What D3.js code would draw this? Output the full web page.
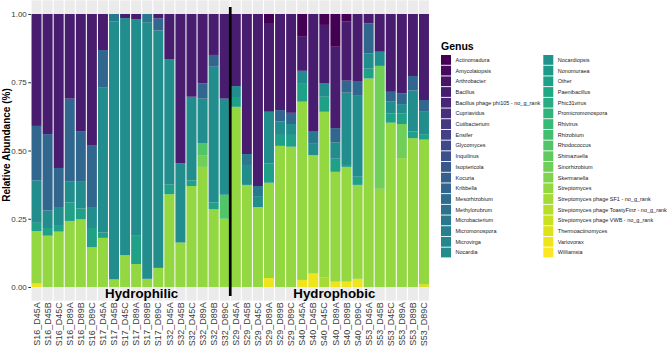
<!DOCTYPE html>
<html>
<head>
<meta charset="utf-8">
<script src="https://cdn.jsdelivr.net/npm/d3@7"></script>
<style>
  body { margin: 0; background: #fff; }
  text { font-family: "Liberation Sans", Arial, sans-serif; }
</style>
</head>
<body>
<svg id="chart" width="667" height="347"></svg>
<script>
// samples on the x axis
var samples = [
  'S16_D45A', 'S16_D45B', 'S16_D45C', 'S16_D89A', 'S16_D89B', 'S16_D89C',
  'S17_D45A', 'S17_D45B', 'S17_D45C', 'S17_D89A', 'S17_D89B', 'S17_D89C',
  'S32_D45A', 'S32_D45B', 'S32_D45C', 'S32_D89A', 'S32_D89B', 'S32_D89C',
  'S29_D45A', 'S29_D45B', 'S29_D45C', 'S29_D89A', 'S29_D89B', 'S29_D89C',
  'S40_D45A', 'S40_D45B', 'S40_D45C', 'S40_D89A', 'S40_D89B', 'S40_D89C',
  'S53_D45A', 'S53_D45B', 'S53_D45C', 'S53_D89A', 'S53_D89B', 'S53_D89C'
];

// legend order (first level is stacked on top)
var genera = [
  'Actinomadura', 'Amycolatopsis', 'Arthrobacter', 'Bacillus',
  'Bacillus phage phi105 - no_g_rank', 'Cupriavidus', 'Cutibacterium', 'Ensifer',
  'Glycomyces', 'Inquilinus', 'Isoptericola', 'Kocuria', 'Kribbella',
  'Mesorhizobium', 'Methylorubrum', 'Microbacterium', 'Micromonospora',
  'Microvirga', 'Nocardia', 'Nocardiopsis', 'Nonomuraea', 'Other',
  'Paenibacillus', 'Phic31virus', 'Promicromonospora', 'Rhivirus', 'Rhizobium',
  'Rhodococcus', 'Shimazuella', 'Sinorhizobium', 'Skermanella', 'Streptomyces',
  'Streptomyces phage SF1 - no_g_rank', 'Streptomyces phage ToastyFinz - no_g_rank',
  'Streptomyces phage VWB - no_g_rank', 'Thermoactinomyces', 'Variovorax', 'Williamsia'
];

// relative abundance per sample (genera not listed are 0)
var actinomadura = [0,0,0,0,0,0, 0,0,0,0,0,0, 0,0,0,0,0,0, 0,0,0,.033,0,0, .081,0,.04,.12,.028,0, 0,0,0,0,0,0];
var bacillus = [.41,.44,.564,.31,.429,.48, .132,0,.015,.02,0,.016, .165,.547,.303,.254,.15,.31,
  .264,.513,.63,.325,.352,.362, .127,.431,.213,.298,.216,.248, .034,.138,.285,.291,.227,.315];
var kribbella = [.20,.28,.146,.304,.183,.23, .138,0,0,0,0,.044, 0,0,0,.056,.043,0,
  0,0,0,0,.042,.041, 0,0,0,.052,.044,.049, .11,0,.036,.039,.053,.043];
var microbacterium = [0,0,0,0,0,0, 0,.028,0,0,.032,0, 0,0,0,0,0,0,
  0,.04,.037,0,0,0, 0,.042,0,0,0,0, 0,0,0,0,0,0];
var nocardia = [.155,.064,.063,.076,.10,.074, .53,.944,.868,.79,.938,.87, .46,.29,.307,.163,.497,.352,
  .04,.073,.04,.19,.049,.04, .045,.044,.05,.06,.265,.299, .056,.052,.043,.035,.15,.082];
var other = [.03,.028,.024,.068,.04,.07, .02,0,0,.106,0,0, .035,0,.02,0,.025,0,
  .036,0,0,.07,.04,.043, .068,0,.055,.048,.007,.03, .036,0,.034,.038,.025,.02];
var rhodococcus = [0,0,0,0,0,0, 0,0,0,0,0,0, 0,0,0,.044,0,.088,
  0,0,0,0,0,0, 0,0,0,0,0,0, 0,0,0,0,0,0];
var sinorhizobium = [0,0,0,0,0,0, 0,0,0,0,0,0, 0,0,0,.043,0,0,
  0,0,0,0,0,0, 0,0,0,0,0,0, 0,.45,0,.125,0,0];
var streptomyces = [.192,.188,.203,.242,.248,.146, .18,.028,.117,.084,.03,.07, .34,.163,.37,.44,.285,.25,
  .66,.374,.293,.349,.517,.514, .653,.433,.607,.402,.42,.344, .764,.36,.602,.472,.545,.53];
var phageSF1 = [0,0,0,0,0,0, 0,0,0,0,0,0, 0,0,0,0,0,0,
  0,0,0,0,0,0, 0,0,.035,0,0,0, 0,0,0,0,0,0];
var thermoactinomyces = [0,0,0,0,0,0, 0,0,0,0,0,0, 0,0,0,0,0,0,
  0,0,0,0,0,0, 0,0,0,0,0,0, 0,0,0,0,0,.01];
var variovorax = [.013,0,0,0,0,0, 0,0,0,0,0,0, 0,0,0,0,0,0,
  0,0,0,.033,0,0, .026,.05,0,.02,.02,.03, 0,0,0,0,0,0];

// group annotations (position in category units, 1-based)
var groupLabels = ['Hydrophilic', 'Hydrophobic'];
var groupAt = [10.5, 27.9];
var dividerAt = 18;

var yTicks = [0, 0.25, 0.5, 0.75, 1];

var valuesByGenus = {
  'Actinomadura': actinomadura,
  'Bacillus': bacillus,
  'Kribbella': kribbella,
  'Microbacterium': microbacterium,
  'Nocardia': nocardia,
  'Other': other,
  'Rhodococcus': rhodococcus,
  'Sinorhizobium': sinorhizobium,
  'Streptomyces': streptomyces,
  'Streptomyces phage SF1 - no_g_rank': phageSF1,
  'Thermoactinomyces': thermoactinomyces,
  'Variovorax': variovorax
};

var svg = d3.select('#chart');
var left = 31, right = 429.5;

var x = d3.scaleBand().domain(samples).range([left, right]).padding(0);
var y = d3.scaleLinear().domain([-0.05, 1.05]).range([300.65, 0.35]);
var color = d3.scaleOrdinal()
  .domain(genera)
  .range(genera.map(function(g, i) { return d3.interpolateViridis(i / (genera.length - 1)); }));

var bw = x.bandwidth();

// panel background
svg.append('rect')
  .attr('x', left).attr('y', y(1.05))
  .attr('width', right - left).attr('height', y(-0.05) - y(1.05))
  .attr('fill', '#EBEBEB');

svg.append('g').selectAll('line')
  .data(d3.range(samples.length + 1))
  .enter().append('line')
  .attr('x1', function(i) { return left + i * bw; })
  .attr('x2', function(i) { return left + i * bw; })
  .attr('y1', y(1.05)).attr('y2', y(-0.05))
  .attr('stroke', '#fff').attr('stroke-width', 1.1);

// stacked bars
var rows = samples.map(function(s, i) { return {sample: s, i: i}; });
var stack = d3.stack()
  .keys(genera.slice().reverse())
  .value(function(d, key) { return valuesByGenus[key] ? valuesByGenus[key][d.i] : 0; });

var layers = svg.append('g').selectAll('g')
  .data(stack(rows))
  .enter().append('g')
  .attr('fill', function(d) { return color(d.key); });

layers.selectAll('rect')
  .data(function(d) { return d.filter(function(p) { return p[1] - p[0] > 0; }); })
  .enter().append('rect')
  .attr('x', function(d) { return x(d.data.sample) + 0.55; })
  .attr('width', bw - 1.1)
  .attr('y', function(d) { return y(d[1]); })
  .attr('height', function(d) { return y(d[0]) - y(d[1]); });

// divider
svg.append('line')
  .attr('x1', left + dividerAt * bw).attr('x2', left + dividerAt * bw)
  .attr('y1', y(1.026)).attr('y2', y(-0.033))
  .attr('stroke', '#000').attr('stroke-width', 2.7);

// group labels
svg.append('g').selectAll('text')
  .data(groupLabels)
  .enter().append('text')
  .attr('x', function(d, i) { return left + (groupAt[i] - 0.5) * bw; })
  .attr('y', y(-0.042))
  .attr('text-anchor', 'middle')
  .attr('font-weight', 'bold')
  .attr('font-size', '13.3px')
  .attr('fill', '#000')
  .text(function(d) { return d; });

// y axis
var yAxis = svg.append('g')
  .attr('transform', 'translate(' + left + ',0)')
  .call(d3.axisLeft(y).tickValues(yTicks).tickFormat(d3.format('.2f')).tickSize(2.7).tickPadding(1.5));
yAxis.select('.domain').remove();
yAxis.selectAll('line').attr('stroke', '#333');
yAxis.selectAll('text').attr('fill', '#3a3a3a').attr('font-size', '8px').attr('font-family', null);

// x axis
var xAxis = svg.append('g')
  .attr('transform', 'translate(0,' + y(-0.05) + ')')
  .call(d3.axisBottom(x).tickSize(0));
xAxis.select('.domain').remove();
xAxis.selectAll('text')
  .attr('transform', 'rotate(-90)')
  .attr('text-anchor', 'end')
  .attr('x', -1.5).attr('y', 0).attr('dy', '0.35em')
  .attr('fill', '#3a3a3a').attr('font-size', '9px').attr('font-family', null);

// y title
svg.append('text')
  .attr('transform', 'translate(10,' + y(0.52) + ') rotate(-90)')
  .attr('text-anchor', 'middle')
  .attr('font-weight', 'bold')
  .attr('font-size', '10px')
  .text('Relative Abundance (%)');

// legend
var legend = svg.append('g').attr('transform', 'translate(441,0)');
legend.append('text')
  .attr('x', 0).attr('y', 50)
  .attr('font-weight', 'bold')
  .attr('font-size', '10.5px')
  .text('Genus');

var perCol = Math.ceil(genera.length / 2);
var item = legend.selectAll('.item')
  .data(genera)
  .enter().append('g')
  .attr('class', 'item')
  .attr('transform', function(d, i) {
    return 'translate(' + (Math.floor(i / perCol) * 102.3) + ',' + (55 + (i % perCol) * 10.7) + ')';
  });
item.append('rect')
  .attr('width', 10).attr('height', 9.8)
  .attr('fill', function(d) { return color(d); });
item.append('text')
  .attr('x', 14.5).attr('y', 4.9).attr('dy', '0.35em')
  .attr('font-size', '5.5px')
  .attr('fill', '#1a1a1a')
  .text(function(d) { return d; });
</script>
</body>
</html>
